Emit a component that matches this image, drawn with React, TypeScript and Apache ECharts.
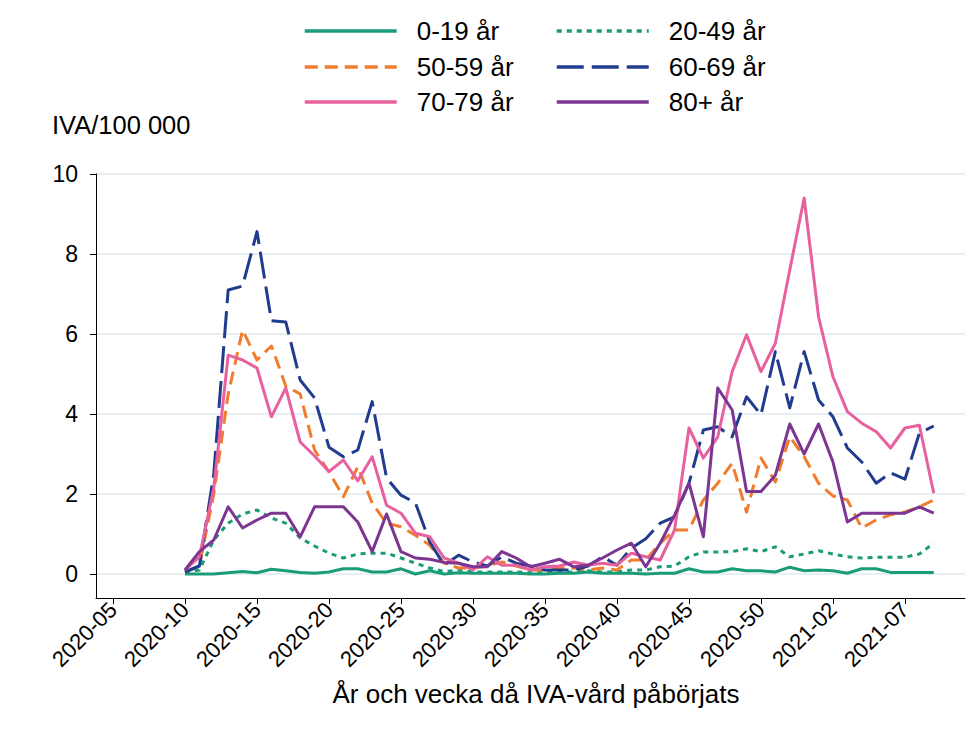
import React, { useEffect, useRef } from "react";
import * as echarts from "echarts";

const weeks = [
  "2020-10", "2020-11", "2020-12", "2020-13", "2020-14", "2020-15", "2020-16", "2020-17", "2020-18", "2020-19",
  "2020-20", "2020-21", "2020-22", "2020-23", "2020-24", "2020-25", "2020-26", "2020-27", "2020-28", "2020-29",
  "2020-30", "2020-31", "2020-32", "2020-33", "2020-34", "2020-35", "2020-36", "2020-37", "2020-38", "2020-39",
  "2020-40", "2020-41", "2020-42", "2020-43", "2020-44", "2020-45", "2020-46", "2020-47", "2020-48", "2020-49",
  "2020-50", "2020-51", "2020-52", "2020-53",
  "2021-01", "2021-02", "2021-03", "2021-04", "2021-05", "2021-06", "2021-07", "2021-08", "2021-09",
];

const age0_19 = [
  0.0, 0.0, 0.0, 0.03, 0.06, 0.03, 0.12, 0.08, 0.04, 0.02,
  0.05, 0.13, 0.13, 0.05, 0.05, 0.13, 0.0, 0.08, 0.0, 0.03,
  0.02, 0.02, 0.02, 0.02, 0.0, 0.0, 0.02, 0.02, 0.05, 0.02,
  0.02, 0.02, 0.0, 0.02, 0.02, 0.13, 0.05, 0.05, 0.13, 0.08,
  0.08, 0.05, 0.17, 0.08,
  0.1, 0.08, 0.02, 0.13, 0.13, 0.04, 0.04, 0.04, 0.04,
];

const age20_49 = [
  0.03, 0.1, 0.85, 1.27, 1.5, 1.6, 1.4, 1.27, 0.9, 0.7,
  0.52, 0.4, 0.5, 0.52, 0.52, 0.4, 0.27, 0.15, 0.06, 0.1,
  0.05, 0.05, 0.05, 0.05, 0.03, 0.05, 0.05, 0.05, 0.08, 0.05,
  0.05, 0.1, 0.1, 0.18, 0.2, 0.43, 0.55, 0.55, 0.56, 0.63,
  0.56, 0.68, 0.43, 0.5,
  0.58, 0.5, 0.43, 0.4, 0.42, 0.42, 0.42, 0.5, 0.77,
];

const age50_59 = [
  0.05, 0.2, 2.0, 4.5, 6.1, 5.35, 5.7, 4.7, 4.5, 3.1,
  2.55, 1.93, 2.68, 1.77, 1.27, 1.18, 0.97, 0.72, 0.27, 0.15,
  0.15, 0.2, 0.3, 0.2, 0.1, 0.1, 0.15, 0.15, 0.1, 0.15,
  0.1, 0.35, 0.35, 0.77, 1.1, 1.1, 1.85, 2.27, 2.77, 1.55,
  2.9, 2.3, 3.43, 2.93,
  2.27, 1.95, 1.85, 1.15, 1.35, 1.48, 1.55, 1.68, 1.85,
];

const age60_69 = [
  0.05, 0.2, 2.5, 7.1, 7.2, 8.56, 6.33, 6.3, 4.85, 4.4,
  3.17, 2.93, 3.1, 4.31, 2.4, 1.97, 1.78, 0.8, 0.22, 0.47,
  0.3, 0.2, 0.43, 0.27, 0.2, 0.1, 0.1, 0.1, 0.2, 0.43,
  0.22, 0.65, 0.88, 1.27, 1.43, 2.27, 3.6, 3.68, 3.43, 4.43,
  3.98, 5.56, 4.15, 5.56,
  4.35, 3.93, 3.15, 2.8, 2.27, 2.53, 2.37, 3.52, 3.7,
];

const age70_79 = [
  0.1, 0.43, 2.15, 5.47, 5.35, 5.15, 3.93, 4.65, 3.3, 2.95,
  2.56, 2.85, 2.33, 2.93, 1.72, 1.52, 1.02, 0.93, 0.4, 0.27,
  0.1, 0.43, 0.22, 0.22, 0.1, 0.18, 0.2, 0.3, 0.22, 0.27,
  0.22, 0.52, 0.43, 0.35, 1.1, 3.65, 2.9, 3.43, 5.06, 5.98,
  5.06, 5.77, 7.6, 9.4,
  6.43, 4.93, 4.06, 3.77, 3.56, 3.15, 3.65, 3.72, 2.02,
];

const age80 = [
  0.1, 0.56, 0.85, 1.68, 1.15, 1.35, 1.52, 1.52, 0.93, 1.68,
  1.68, 1.68, 1.3, 0.56, 1.5, 0.56, 0.4, 0.37, 0.29, 0.27,
  0.18, 0.18, 0.56, 0.4, 0.18, 0.27, 0.37, 0.18, 0.22, 0.4,
  0.6, 0.77, 0.18, 0.77, 1.47, 2.27, 0.93, 4.65, 4.1, 2.06,
  2.06, 2.47, 3.75, 3.0,
  3.75, 2.8, 1.3, 1.52, 1.52, 1.52, 1.52, 1.68, 1.52,
];

const seriesNames = ["0-19 år", "20-49 år", "50-59 år", "60-69 år", "70-79 år", "80+ år"];

const xTickLabels = [
  "2020-05", "2020-10", "2020-15", "2020-20", "2020-25", "2020-30",
  "2020-35", "2020-40", "2020-45", "2020-50", "2021-02", "2021-07",
];

const yTicks = [0, 2, 4, 6, 8, 10];

const FONT = "'Liberation Sans', Arial, sans-serif";

function weekPos(label: string): number {
  const [y, w] = label.split("-").map(Number);
  return y === 2020 ? w : 53 + w;
}
function pad(n: number) {
  return n < 10 ? "0" + n : String(n);
}
function posLabel(v: number): string {
  const r = Math.round(v);
  return r <= 53 ? `2020-${pad(r)}` : `2021-${pad(r - 53)}`;
}

export default function App() {
  const ref = useRef<HTMLDivElement>(null);

  useEffect(() => {
    if (!ref.current) return;
    const chart = echarts.init(ref.current, undefined, { renderer: "svg" });

    const values = [age0_19, age20_49, age50_59, age60_69, age70_79, age80];
    const colors = ["#1a9c78", "#1a9c78", "#f07c2c", "#213c8e", "#e8619f", "#7d3592"];
    const dashes: any[] = ["solid", [5, 5], [13, 7], [27, 8], "solid", "solid"];
    const xTickValues = xTickLabels.map(weekPos);

    const series = values.map((vals, i) => ({
      name: seriesNames[i],
      type: "line",
      symbol: "none",
      data: vals.map((v, j) => [weekPos(weeks[j]), v]),
      lineStyle: { color: colors[i], width: 3, type: dashes[i], cap: "butt", join: "round" },
      itemStyle: { color: colors[i] },
      z: 2 + i,
    }));

    const rowY = [33, 69, 104];
    const legends = seriesNames.map((name, i) => ({
      data: [name],
      left: i % 2 === 0 ? 303 : 555,
      top: rowY[Math.floor(i / 2)] - 15,
      itemWidth: 92,
      itemHeight: 14,
      itemGap: 0,
      padding: 0,
      selectedMode: false,
      itemStyle: { opacity: 0 },
      lineStyle: { width: 3.5 },
      textStyle: {
        fontSize: 26,
        fontFamily: FONT,
        color: "#000",
        padding: [0, 0, 0, 15],
      },
    }));

    chart.setOption({
      animation: false,
      backgroundColor: "#fff",
      grid: { left: 96, right: 2, top: 174, bottom: 139, containLabel: false },
      legend: legends,
      xAxis: {
        type: "value",
        min: 3.82,
        max: 64.17,
        axisLine: { show: true, onZero: false, lineStyle: { color: "#000", width: 1 } },
        axisTick: { show: true, customValues: xTickValues, length: 6, lineStyle: { color: "#000" } },
        axisLabel: {
          show: true,
          customValues: xTickValues,
          rotate: 45,
          margin: 8,
          fontSize: 22,
          fontFamily: FONT,
          color: "#000",
          formatter: (v: number) => posLabel(v),
        },
        splitLine: { show: false },
      },
      yAxis: {
        type: "value",
        min: -0.6,
        max: 10,
        axisLine: { show: true, onZero: false, lineStyle: { color: "#000", width: 1 } },
        axisTick: { show: true, customValues: yTicks, length: 6, lineStyle: { color: "#000" } },
        axisLabel: {
          show: true,
          customValues: yTicks,
          margin: 18,
          fontSize: 23,
          fontFamily: FONT,
          color: "#000",
        },
        splitLine: { show: true, lineStyle: { color: "#e7eff2", width: 2 } },
      },
      graphic: [
        {
          type: "text",
          left: 52,
          top: 112,
          style: { text: "IVA/100 000", fontSize: 25.5, fontFamily: FONT, fill: "#000" },
        },
        {
          type: "text",
          x: 536,
          y: 694,
          style: {
            text: "År och vecka då IVA-vård påbörjats",
            fontSize: 26,
            fontFamily: FONT,
            fill: "#000",
            align: "center",
            verticalAlign: "middle",
          },
        },
      ],
      series,
    });

    return () => chart.dispose();
  }, []);

  return (
    <div
      ref={ref}
      style={{ position: "fixed", left: 0, top: 0, width: 967, height: 737, background: "#fff" }}
    />
  );
}
